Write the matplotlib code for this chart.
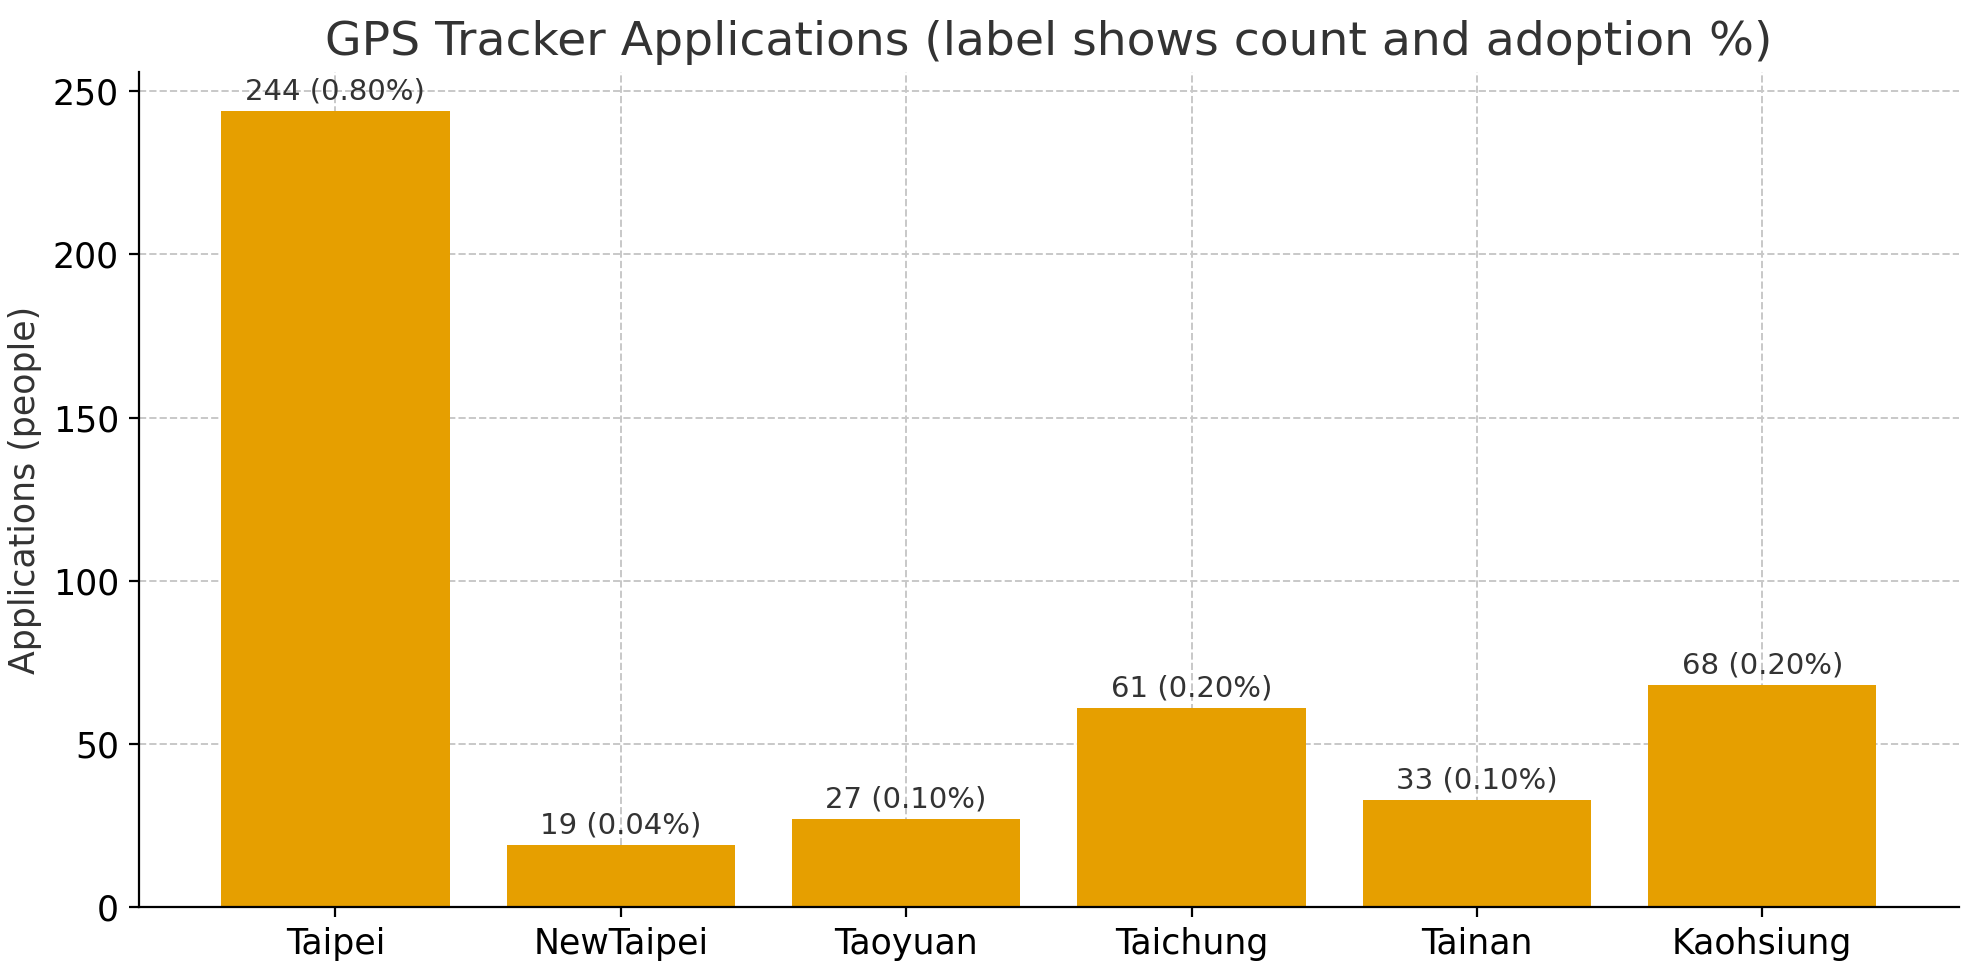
import matplotlib
matplotlib.use("Agg")
import matplotlib.pyplot as plt

cities = ["Taipei", "NewTaipei", "Taoyuan", "Taichung", "Tainan", "Kaohsiung"]
counts = [244, 19, 27, 61, 33, 68]
adoption = [0.80, 0.04, 0.10, 0.20, 0.10, 0.20]

fig, ax = plt.subplots(figsize=(9.895, 4.9), dpi=200)
x = range(len(cities))
ax.bar(x, counts, color="#E69F00", width=0.8, zorder=2)
for xi, c, a in zip(x, counts, adoption):
    ax.annotate(f"{c} ({a:.2f}%)", (xi, c), xytext=(0, 2), textcoords="offset points",
                ha="center", va="bottom", fontsize=10.5, color="#333333")
ax.set_xticks(list(x))
ax.set_xticklabels(cities, fontsize=12.5)
ax.tick_params(axis="y", labelsize=12.5)
ax.set_ylabel("Applications (people)", fontsize=12.5, color="#333333")
ax.set_title("GPS Tracker Applications (label shows count and adoption %)", fontsize=17, color="#333333")
ax.set_ylim(0, 256)
ax.grid(True, linestyle="--", color="#c8c8c8", linewidth=0.7, zorder=0)
ax.set_axisbelow(True)
ax.spines["top"].set_visible(False)
ax.spines["right"].set_visible(False)
fig.subplots_adjust(left=0.07, right=0.99, top=0.927, bottom=0.074)
fig.savefig("out.png", dpi=200)
